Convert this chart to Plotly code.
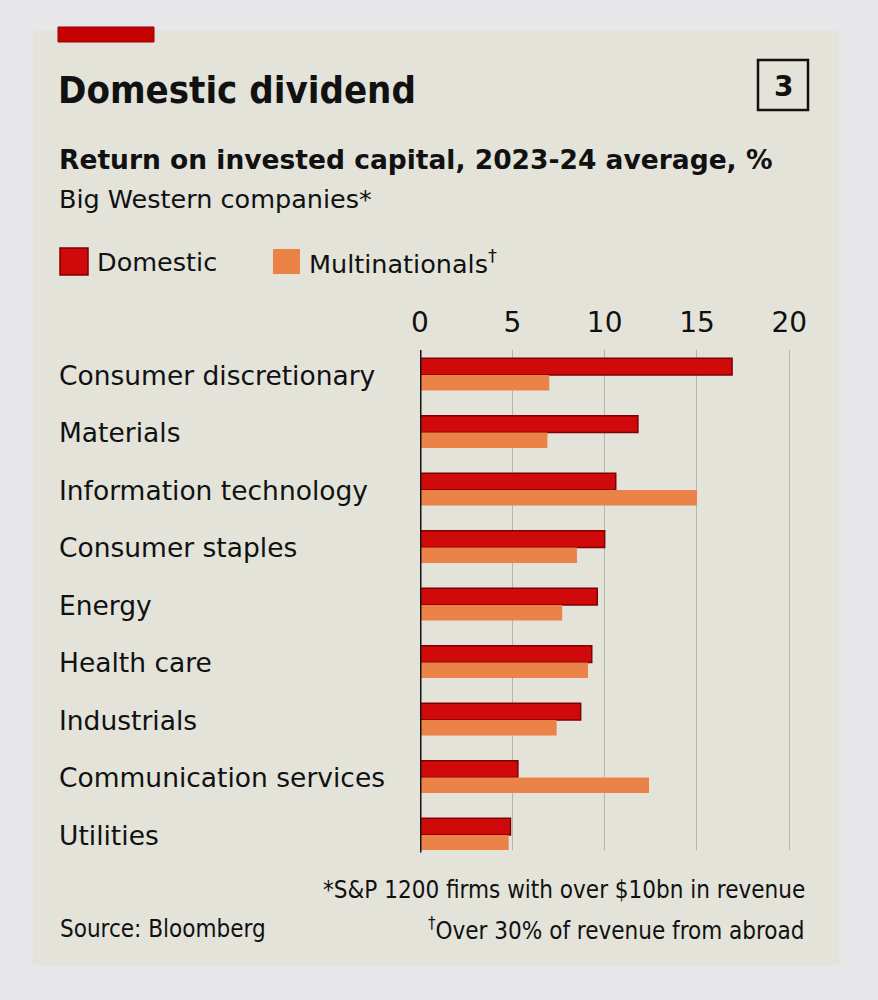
import plotly.graph_objects as go

categories = ["Consumer discretionary", "Materials", "Information technology",
              "Consumer staples", "Energy", "Health care", "Industrials",
              "Communication services", "Utilities"]
domestic = [16.9, 11.8, 10.6, 10.0, 9.6, 9.3, 8.7, 5.3, 4.9]
multinationals = [7.0, 6.9, 15.0, 8.5, 7.7, 9.1, 7.4, 12.4, 4.8]
tick_vals = [0, 5, 10, 15, 20]

W_FIG, H_FIG = 878, 1000
L, R, T, B = 420, 61, 350, 150
PW, PH = W_FIG - L - R, H_FIG - T - B

def px(x):
    return (x - L) / PW

def py(y):
    return (H_FIG - B - y) / PH

RED = "#d00a0a"
RED_EDGE = "#7e0000"
ORANGE = "#eb8248"
PANEL = "#e3e3da"
OUTER = "#e7e7e9"
FONT = "DejaVu Sans"
COND = "DejaVu Sans Condensed, DejaVu Sans"
TXT = "#111111"

fig = go.Figure()
fig.add_trace(go.Bar(
    y=categories, x=domestic, orientation="h", name="Domestic",
    marker=dict(color=RED, line=dict(color=RED_EDGE, width=1.5)),
    width=0.29, offset=-0.29, showlegend=False,
))
fig.add_trace(go.Bar(
    y=categories, x=multinationals, orientation="h", name="Multinationals",
    marker=dict(color=ORANGE, line=dict(width=0)),
    width=0.27, offset=0.0, showlegend=False,
))

shapes = []
shapes.append(dict(type="rect", xref="paper", yref="paper", layer="below",
                   x0=px(33), x1=px(839), y0=py(965), y1=py(31),
                   fillcolor=PANEL, line=dict(width=0)))
shapes.append(dict(type="rect", xref="paper", yref="paper",
                   x0=px(58), x1=px(154), y0=py(42), y1=py(27),
                   fillcolor="#c40000", line=dict(color="#9a0000", width=1)))
shapes.append(dict(type="rect", xref="paper", yref="paper",
                   x0=px(758), x1=px(808), y0=py(110), y1=py(60),
                   fillcolor="rgba(0,0,0,0)", line=dict(color="#111", width=2.5)))
shapes.append(dict(type="rect", xref="paper", yref="paper",
                   x0=px(60), x1=px(88), y0=py(275), y1=py(248),
                   fillcolor=RED, line=dict(color=RED_EDGE, width=1.5)))
shapes.append(dict(type="rect", xref="paper", yref="paper",
                   x0=px(273), x1=px(300), y0=py(274), y1=py(249),
                   fillcolor=ORANGE, line=dict(width=0)))
shapes.append(dict(type="line", xref="x", yref="paper", x0=0, x1=0, y0=-0.005, y1=1,
                   line=dict(color="#151515", width=3), layer="above"))

annotations = []
def txt(text, x, y, size, anchor="left", bold=False, color=TXT, family=FONT):
    annotations.append(dict(
        text=f"<b>{text}</b>" if bold else text, xref="paper", yref="paper",
        x=px(x), y=py(y), xanchor=anchor, yanchor="middle", showarrow=False,
        font=dict(family=family, size=size, color=color)))

txt("Domestic dividend", 56, 90, 38, bold=True, family=COND)
txt("3", 783, 86, 28, anchor="center", bold=True)
txt("Return on invested capital, 2023-24 average, %", 57, 159, 26.5, bold=True)
txt("Big Western companies*", 57, 199, 25.5)
txt("Domestic", 95, 262, 25.5)
txt("Multinationals<sup>†</sup>", 307, 262, 25.5)
txt("*S&P 1200 firms with over $10bn in revenue", 807, 890, 24, anchor="right", family=COND)
txt("<sup>†</sup>Over 30% of revenue from abroad", 807, 929, 24, anchor="right", family=COND)
txt("Source: Bloomberg", 58, 929, 24, family=COND)

for c in categories:
    annotations.append(dict(text=c, xref="paper", yref="y", x=px(57), y=c,
                            xanchor="left", yanchor="middle", showarrow=False,
                            font=dict(family=FONT, size=26.5, color=TXT)))

fig.update_layout(
    width=W_FIG, height=H_FIG,
    margin=dict(l=L, r=R, t=T, b=B),
    paper_bgcolor=OUTER, plot_bgcolor=PANEL,
    barmode="overlay",
    shapes=shapes, annotations=annotations,
    xaxis=dict(side="top", range=[0, 21.5], tickvals=tick_vals,
               showgrid=True, gridcolor="#b5b5ae", gridwidth=1.2,
               zeroline=False, showline=False, ticks="", ticklabelstandoff=11,
               tickfont=dict(family=FONT, size=28, color=TXT)),
    yaxis=dict(categoryorder="array", categoryarray=categories,
               range=[8.26, -0.435], showticklabels=False, showgrid=False,
               zeroline=False, showline=False, ticks=""),
    font=dict(family=FONT),
)

fig.write_html("out.html")
